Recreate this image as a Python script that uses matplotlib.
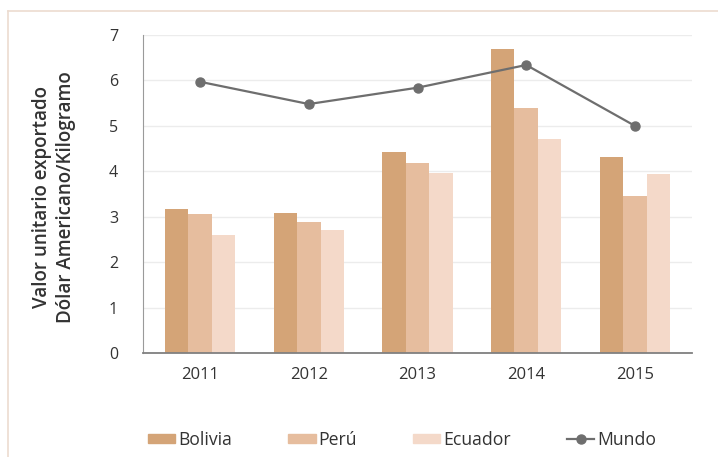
import matplotlib.pyplot as plt
from matplotlib.lines import Line2D
from matplotlib.patches import Patch
import numpy as np

plt.rcParams['font.family'] = ['Open Sans', 'DejaVu Sans']

years = ['2011', '2012', '2013', '2014', '2015']
bolivia = [3.16, 3.09, 4.42, 6.70, 4.31]
peru = [3.07, 2.89, 4.18, 5.39, 3.46]
ecuador = [2.60, 2.70, 3.97, 4.71, 3.94]
mundo = [5.97, 5.48, 5.84, 6.34, 5.00]

c_bol = '#d4a477'
c_per = '#e6bd9e'
c_ecu = '#f4d9c9'
c_mun = '#6e6e6e'

fig = plt.figure(figsize=(7.18, 4.57), dpi=100)
ax = fig.add_axes([143 / 718, 1 - 353 / 457, 549 / 718, 318 / 457])

x = np.arange(len(years))
w = 0.216
ax.bar(x - w, bolivia, w, color=c_bol, zorder=2)
ax.bar(x, peru, w, color=c_per, zorder=2)
ax.bar(x + w, ecuador, w, color=c_ecu, zorder=2)
ax.plot(x, mundo, color=c_mun, lw=1.6, marker='o', ms=6.5, zorder=3)

ax.set_xlim(-0.525, 4.525)
ax.set_ylim(0, 7)
ax.set_yticks(range(8))
ax.set_xticks(x)
ax.set_xticklabels(years)
ax.grid(axis='y', color='#ececec', lw=1, zorder=0)
ax.set_axisbelow(True)
for s in ['top', 'right']:
    ax.spines[s].set_visible(False)
ax.spines['left'].set_color('#9a9a9a')
ax.spines['bottom'].set_color('#808080')
ax.spines['bottom'].set_linewidth(1.3)
ax.tick_params(axis='both', length=0, colors='#333333')
ax.tick_params(axis='y', pad=18, labelsize=11.5)
ax.tick_params(axis='x', pad=10, labelsize=12)

fig.text(54 / 718, 1 - 197 / 457, 'Valor unitario exportado\nDólar Americano/Kilogramo',
         rotation=90, ha='center', va='center', fontsize=13.5, fontweight='semibold',
         color='#333333', linespacing=1.3)

# frame lines around the chart area
fig.add_artist(Line2D([8 / 718, 1], [1 - 11 / 457, 1 - 11 / 457], color='#ecdcd0', lw=1.2))
fig.add_artist(Line2D([8 / 718, 8 / 718], [0, 1 - 11 / 457], color='#ecdcd0', lw=1.2))

handles = [Patch(color=c_bol), Patch(color=c_per), Patch(color=c_ecu),
           Line2D([], [], color=c_mun, lw=1.6, marker='o', ms=6.5)]
labels = ['Bolivia', 'Perú', 'Ecuador', 'Mundo']
fig.legend(handles, labels, loc='center', bbox_to_anchor=(402 / 718, 1 - 440 / 457),
           ncol=4, frameon=False, fontsize=12.7, handlelength=1.55, handleheight=0.45,
           handletextpad=0.15, columnspacing=3.2, labelcolor='#333333')

fig.savefig('out.png', dpi=100, facecolor='white')
